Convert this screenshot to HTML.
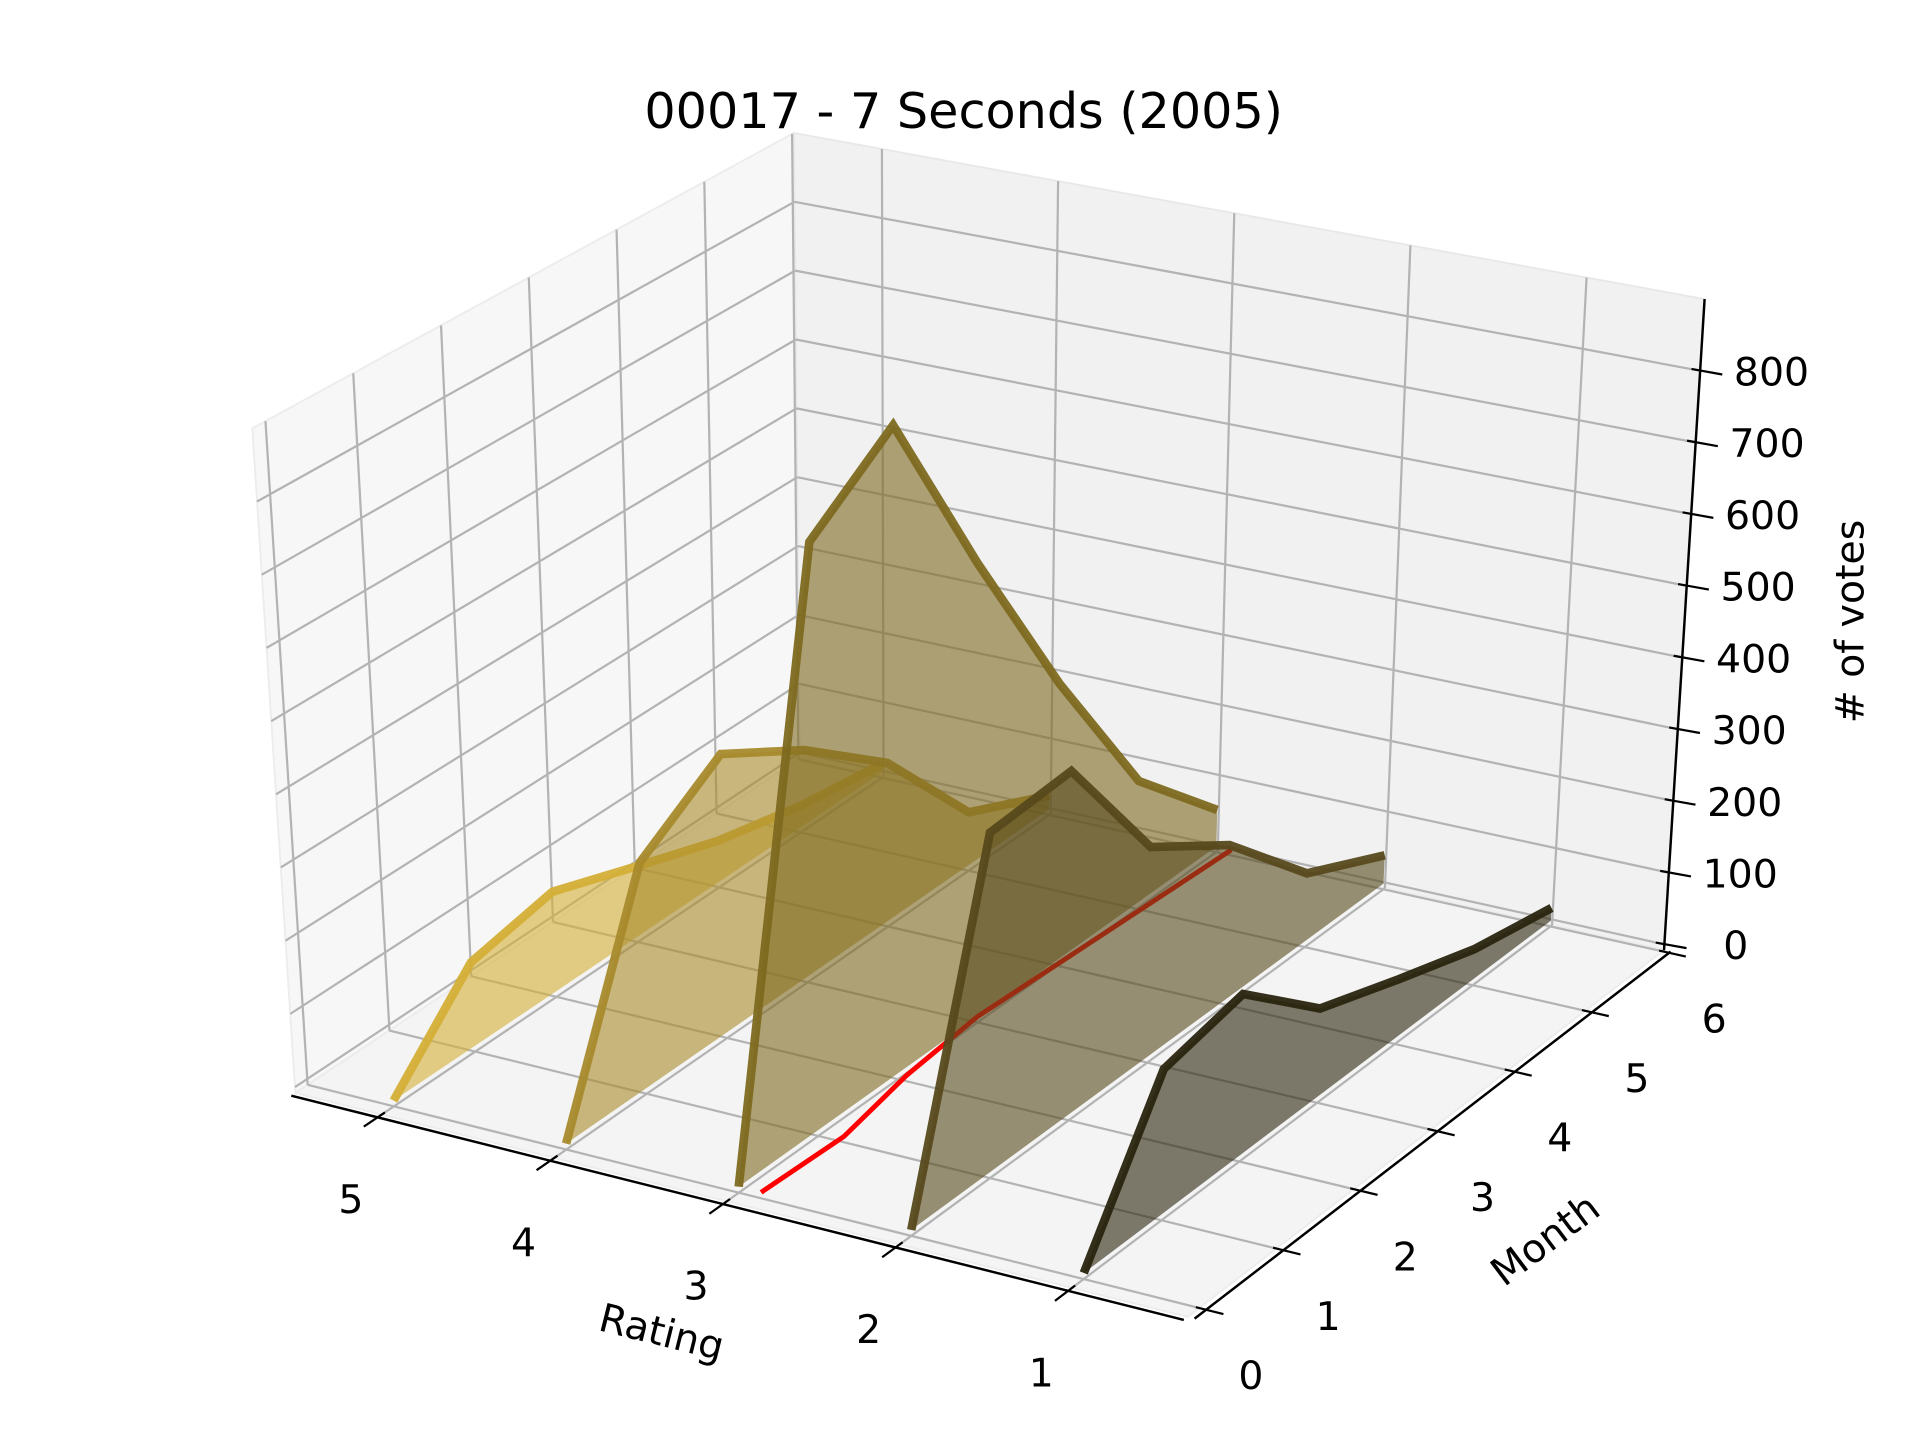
<!DOCTYPE html>
<html>
<head>
<meta charset="utf-8">
<style>
  html,body{margin:0;padding:0;background:#fff;}
  svg{display:block;}
  text{font-family:"DejaVu Sans","Liberation Sans",sans-serif;fill:#000;}
</style>
</head>
<body>
<svg id="chart" width="1920" height="1440" viewBox="0 0 1560 1170" xmlns="http://www.w3.org/2000/svg">
  <rect x="0" y="0" width="1560" height="1170" fill="#ffffff"/>
  <g id="panes"></g>
  <g id="grid"></g>
  <g id="axes"></g>
  <g id="series"></g>
  <g id="labels"></g>
  <text x="783" y="104" font-size="40" text-anchor="middle">00017 - 7 Seconds (2005)</text>
  <text x="0" y="0" font-size="32" text-anchor="middle" transform="translate(535,1093) rotate(14)">Rating</text>
  <text x="0" y="0" font-size="32" text-anchor="middle" transform="translate(1262,1016) rotate(-37)">Month</text>
  <text x="0" y="0" font-size="32" text-anchor="middle" transform="translate(1514,505) rotate(-90)"># of votes</text>
</svg>
<script>
// ---- data ----
const ratings = [5, 4, 3, 2, 1];
const months = [0, 1, 2, 3, 4, 5, 6];
const votesR5 = [0, 115, 138, 98, 58, 30, 12];
const votesR4 = [0, 307, 383, 315, 222, 75, 20];
const votesR3 = [0, 795, 885, 625, 385, 172, 52];
const votesR2 = [0, 455, 465, 287, 213, 95, 40];
const votesR1 = [0, 193, 217, 120, 80, 42, 18];
const meanRating = [2.87, 2.85, 2.95, 3.0, 2.97, 2.94, 2.91];
const zTicks = [0, 100, 200, 300, 400, 500, 600, 700, 800];
const ratingTickLabels = ["5", "4", "3", "2", "1"];
const monthTickLabels = ["0", "1", "2", "3", "4", "5", "6"];

// ---- projection (trilinear box mapping) ----
const rHi = 5.5, rLo = 0.33, mLo = -0.15, mHi = 6.02, zLo = -8, zHi = 900;
const C = {
  "000": [240, 888], "001": [205, 348],
  "010": [650, 616], "011": [645, 108],
  "100": [965, 1070], "101": [975, 505],
  "110": [1352, 772], "111": [1385, 243]
};
function P(r, m, z) {
  const u = (rHi - r) / (rHi - rLo), v = (m - mLo) / (mHi - mLo), w = (z - zLo) / (zHi - zLo);
  let x = 0, y = 0;
  for (const a of [0, 1]) for (const b of [0, 1]) for (const c of [0, 1]) {
    const k = (a ? u : 1 - u) * (b ? v : 1 - v) * (c ? w : 1 - w);
    const p = C["" + a + b + c];
    x += k * p[0]; y += k * p[1];
  }
  return [x, y];
}
const NS = "http://www.w3.org/2000/svg";
function mk(tag, parent, attrs) {
  const e = document.createElementNS(NS, tag);
  for (const k in attrs) e.setAttribute(k, attrs[k]);
  parent.appendChild(e);
  return e;
}
function pts(list) { return list.map(p => p[0].toFixed(1) + "," + p[1].toFixed(1)).join(" "); }

// ---- panes ----
const gp = document.getElementById("panes");
let e;
e = mk("polygon", gp, { points: pts([P(rHi, mLo, zLo), P(rHi, mHi, zLo), P(rHi, mHi, zHi), P(rHi, mLo, zHi)]), fill: "#f7f7f7", stroke: "#ececec", "stroke-width": 1.5 });


e = mk("polygon", gp, { points: pts([P(rHi, mHi, zLo), P(rLo, mHi, zLo), P(rLo, mHi, zHi), P(rHi, mHi, zHi)]), fill: "#f1f1f1", stroke: "#e8e8e8", "stroke-width": 1.5 });


e = mk("polygon", gp, { points: pts([P(rHi, mLo, zLo), P(rLo, mLo, zLo), P(rLo, mHi, zLo), P(rHi, mHi, zLo)]), fill: "#f4f4f4", stroke: "#ececec", "stroke-width": 1.5 });



// ---- grid ----
const gg = document.getElementById("grid");
function gline(a, b, name) {
  const l = mk("line", gg, { x1: a[0], y1: a[1], x2: b[0], y2: b[1], stroke: "#b3b3b3", "stroke-width": 1.8 });
  
  
}
months.forEach(m => {
  gline(P(rHi, m, zLo), P(rHi, m, zHi), "grid-month-wall");
  gline(P(rHi, m, zLo), P(rLo, m, zLo), "grid-month-floor");
});
ratings.forEach(r => {
  gline(P(r, mHi, zLo), P(r, mHi, zHi), "grid-rating-wall");
  gline(P(r, mLo, zLo), P(r, mHi, zLo), "grid-rating-floor");
});
zTicks.forEach(z => {
  gline(P(rHi, mLo, z), P(rHi, mHi, z), "grid-z-left");
  gline(P(rHi, mHi, z), P(rLo, mHi, z), "grid-z-back");
});

// ---- axes ----
const ga = document.getElementById("axes");
function aline(a, b, name, w) {
  const l = mk("line", ga, { x1: a[0], y1: a[1], x2: b[0], y2: b[1], stroke: "#000", "stroke-width": w || 2 });
  
  
}
aline(P(rHi, mLo - 0.05, zLo), P(rLo, mLo - 0.05, zLo), "x-axis-line");
aline(P(rLo - 0.04, mLo, zLo), P(rLo - 0.04, mHi, zLo), "y-axis-line");
aline(P(rLo, mHi, zLo), P(rLo, mHi, zHi), "z-axis-line");

const gl = document.getElementById("labels");
ratings.forEach((r, i) => {
  aline(P(r, mLo - 0.22, zLo), P(r, mLo + 0.04, zLo), "x-tick", 1.8);
  const p = P(r, mLo, zLo);
  const t = mk("text", gl, { x: p[0] - 25, y: p[1] + 80, "font-size": 32, "text-anchor": "middle" });
  t.textContent = ratingTickLabels[i];
  
  
});
months.forEach((m, i) => {
  aline(P(rLo - 0.14, m, zLo), P(rLo + 0.02, m, zLo), "y-tick", 1.8);
  const p = P(rLo, m, zLo);
  const t = mk("text", gl, { x: p[0] + 42, y: p[1] + 66, "font-size": 32, "text-anchor": "middle" });
  t.textContent = monthTickLabels[i];
  
  
});
zTicks.forEach(z => {
  const p = P(rLo, mHi, z);
  aline([p[0] - 7, p[1] - 1.5], [p[0] + 18, p[1] + 3], "z-tick", 1.8);
  const t = mk("text", gl, { x: p[0] + 58, y: p[1] + 12, "font-size": 32, "text-anchor": "middle" });
  t.textContent = String(z);
  
  
});

// ---- series ----
const gs = document.getElementById("series");
const seriesDefs = [
  { r: 5, v: votesR5, color: "#d4af37" },
  { r: 4, v: votesR4, color: "#a88a2c" },
  { r: 3, v: votesR3, color: "#7d691f" },
  { r: 2, v: votesR2, color: "#57491c" },
  { r: 1, v: votesR1, color: "#29240e" }
];
function drawSeries(s) {
  const line = months.map((m, i) => P(s.r, m, s.v[i]));
  const poly = line.concat([P(s.r, months[months.length - 1], 0), P(s.r, months[0], 0)]);
  const f = mk("polygon", gs, { points: pts(poly), fill: s.color, "fill-opacity": 0.6 });
  
  
  const l = mk("polyline", gs, { points: pts(line), fill: "none", stroke: s.color, "stroke-width": 7, "stroke-linejoin": "miter", "stroke-opacity": 0.95 });
  
  
}
function drawMean() {
  const line = months.map((m, i) => P(meanRating[i], m, 0));
  const l = mk("polyline", gs, { points: pts(line), fill: "none", stroke: "#ff0000", "stroke-width": 4 });
  
  
}
drawSeries(seriesDefs[0]);
drawSeries(seriesDefs[1]);
drawSeries(seriesDefs[2]);
drawMean();
drawSeries(seriesDefs[3]);
drawSeries(seriesDefs[4]);
</script>
</body>
</html>
